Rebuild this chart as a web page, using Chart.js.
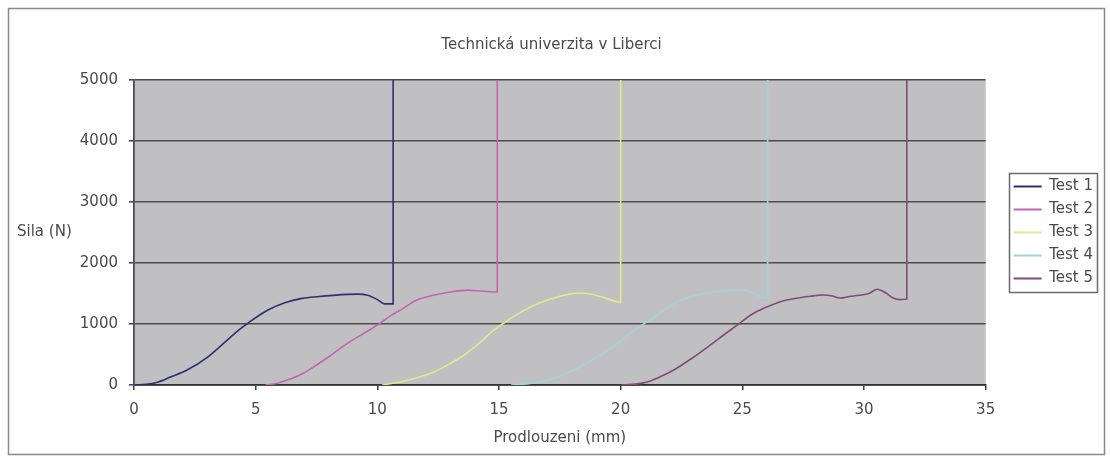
<!DOCTYPE html>
<html>
<head>
<meta charset="utf-8">
<title>Technická univerzita v Liberci</title>
<script src="https://cdn.jsdelivr.net/npm/chart.js@4"></script>
<style>
  html, body { margin: 0; padding: 0; background: #ffffff; }
  #wrap { width: 1110px; height: 457px; position: relative; }
</style>
</head>
<body>
<div id="wrap"><canvas id="c" width="1110" height="457"></canvas></div>
<script>
// Tensile test curves: elongation (mm) vs. force (N)
const chartTitle = 'Technická univerzita v Liberci';
const xTitle = 'Prodlouzeni (mm)';
const yTitle = 'Sila (N)';
const seriesNames = ['Test 1', 'Test 2', 'Test 3', 'Test 4', 'Test 5'];
const xTicks = [0, 5, 10, 15, 20, 25, 30, 35];
const yTicks = [0, 1000, 2000, 3000, 4000, 5000];

const test1X = [0, 0.5, 1.0, 1.5, 2.2, 3.0, 3.7, 4.3, 4.7, 5.5, 6.2, 6.9, 7.6, 8.2, 8.8, 9.2, 9.6, 10.0, 10.3, 10.65, 10.65];
const test1Y = [0, 10, 50, 130, 250, 450, 690, 900, 1020, 1230, 1350, 1420, 1450, 1470, 1485, 1490, 1470, 1400, 1330, 1330, 5000];

const test2X = [5.4, 5.9, 6.3, 6.9, 7.4, 8.1, 8.8, 9.5, 10.1, 10.6, 11.0, 11.6, 12.3, 13.0, 13.7, 14.3, 14.93, 14.93];
const test2Y = [0, 30, 80, 180, 300, 490, 690, 860, 1010, 1150, 1240, 1390, 1470, 1525, 1555, 1540, 1525, 5000];

const test3X = [10.2, 10.8, 11.6, 12.3, 12.9, 13.6, 14.2, 14.7, 15.2, 15.8, 16.3, 16.9, 17.4, 17.9, 18.4, 18.9, 19.4, 19.9, 20.0, 20.0];
const test3Y = [0, 40, 115, 210, 330, 500, 690, 870, 1016, 1170, 1280, 1380, 1443, 1490, 1508, 1480, 1420, 1360, 1350, 5000];

const test4X = [15.5, 16.2, 17.0, 17.6, 18.1, 18.7, 19.3, 19.9, 20.4, 20.9, 21.4, 21.9, 22.5, 23.1, 23.8, 24.4, 25.0, 25.5, 25.75, 26.04, 26.04];
const test4Y = [0, 20, 80, 160, 250, 380, 520, 690, 850, 990, 1115, 1260, 1393, 1470, 1525, 1550, 1557, 1500, 1443, 1426, 5000];

const test5X = [20.0, 20.6, 21.1, 21.6, 22.2, 22.9, 23.6, 24.3, 24.9, 25.4, 25.9, 26.6, 27.3, 27.8, 28.3, 28.7, 29.0, 29.4, 29.8, 30.2, 30.55, 30.9, 31.2, 31.5, 31.76, 31.76];
const test5Y = [0, 15, 50, 130, 250, 430, 630, 840, 1016, 1160, 1262, 1370, 1426, 1455, 1475, 1460, 1426, 1450, 1470, 1500, 1570, 1508, 1426, 1400, 1410, 5000];

const seriesColors = ['#2e2e72', '#c463b4', '#e6e68e', '#a2d2da', '#824a7c'];

const FONT = 'DejaVu Sans';
const TEXT = '#4a4a4a';

function toPoints(xs, ys) {
  return xs.map((x, i) => ({ x: x, y: ys[i] }));
}

const allX = [test1X, test2X, test3X, test4X, test5X];
const allY = [test1Y, test2Y, test3Y, test4Y, test5Y];

const datasets = seriesNames.map((name, i) => ({
  label: name,
  data: toPoints(allX[i], allY[i]),
  borderColor: seriesColors[i],
  backgroundColor: seriesColors[i],
  borderWidth: 1.6,
  showLine: true,
  pointRadius: 0,
  cubicInterpolationMode: 'monotone',
  fill: false
}));

// white page, outer frame and grey plot area
const framePlugin = {
  id: 'frame',
  beforeDraw(chart) {
    const { ctx, chartArea } = chart;
    ctx.save();
    ctx.fillStyle = '#ffffff';
    ctx.fillRect(0, 0, chart.width, chart.height);
    ctx.strokeStyle = '#8a8a8a';
    ctx.lineWidth = 1.5;
    ctx.strokeRect(8.5, 8.5, 1096, 446);
    ctx.fillStyle = '#c0c0c2';
    ctx.fillRect(chartArea.left, chartArea.top, chartArea.right - chartArea.left, chartArea.bottom - chartArea.top);
    ctx.restore();
  },
  afterDraw(chart) {
    const { ctx, chartArea } = chart;
    ctx.save();
    // horizontal y-axis title
    ctx.font = '15px "' + FONT + '"';
    ctx.fillStyle = TEXT;
    ctx.textAlign = 'left';
    ctx.textBaseline = 'middle';
    ctx.fillText(yTitle, 17, (chartArea.top + chartArea.bottom) / 2);
    // box around the legend entries
    const lg = chart.legend;
    if (lg && lg.legendHitBoxes && lg.legendHitBoxes.length) {
      const hb = lg.legendHitBoxes;
      let l = Infinity, r = -Infinity, t = Infinity, b = -Infinity;
      hb.forEach(h => {
        l = Math.min(l, h.left); r = Math.max(r, h.left + h.width);
        t = Math.min(t, h.top); b = Math.max(b, h.top + h.height);
      });
      ctx.strokeStyle = '#6a6a6a';
      ctx.lineWidth = 1.5;
      ctx.strokeRect(Math.round(l - 5) + 0.5, Math.round(t - 6) + 0.5, Math.round(r - l + 9), Math.round(b - t + 12));
    }
    ctx.restore();
  }
};

new Chart(document.getElementById('c'), {
  type: 'scatter',
  data: { datasets: datasets },
  plugins: [framePlugin],
  options: {
    responsive: false,
    animation: false,
    devicePixelRatio: 1,
    layout: { padding: { left: 0, right: 7, top: 0, bottom: 0 } },
    plugins: {
      title: {
        display: true,
        text: chartTitle,
        color: TEXT,
        font: { family: FONT, size: 15, weight: 'normal' },
        padding: { top: 36, bottom: 26 }
      },
      legend: {
        display: true,
        position: 'right',
        align: 'center',
        fullSize: false,
        labels: {
          color: TEXT,
          font: { family: FONT, size: 15 },
          boxWidth: 28,
          boxHeight: 2,
          padding: 8,
          generateLabels(chart) {
            return chart.data.datasets.map((ds, i) => ({
              text: ds.label,
              fillStyle: ds.borderColor,
              strokeStyle: ds.borderColor,
              lineWidth: 0,
              hidden: false,
              datasetIndex: i,
              fontColor: TEXT
            }));
          }
        }
      },
      tooltip: { enabled: false }
    },
    scales: {
      x: {
        type: 'linear',
        min: 0,
        max: 35,
        afterBuildTicks(scale) { scale.ticks = xTicks.map(v => ({ value: v })); },
        afterFit(scale) { scale.height = 72; },
        ticks: {
          color: TEXT,
          font: { family: FONT, size: 15 },
          padding: 11,
          maxRotation: 0,
          callback: v => String(v)
        },
        grid: {
          display: true,
          drawOnChartArea: false,
          drawTicks: true,
          tickLength: 5,
          color: '#3a3a3a',
          lineWidth: 1.5
        },
        border: { display: true, color: '#333333', width: 1.8 },
        title: {
          display: true,
          text: xTitle,
          color: TEXT,
          font: { family: FONT, size: 15 },
          padding: { top: 0, bottom: 10 }
        }
      },
      y: {
        type: 'linear',
        min: 0,
        max: 5000,
        afterBuildTicks(scale) { scale.ticks = yTicks.map(v => ({ value: v })); },
        afterFit(scale) { scale.width = 134; },
        ticks: {
          color: TEXT,
          font: { family: FONT, size: 15 },
          padding: 11,
          callback: v => String(v)
        },
        grid: {
          display: true,
          drawOnChartArea: true,
          drawTicks: true,
          tickLength: 5,
          color: '#4c4c4c',
          lineWidth: 1.6
        },
        border: { display: true, color: '#4e4a5c', width: 1.8 }
      },
      gap: {
        type: 'linear',
        position: 'right',
        display: true,
        afterFit(scale) { scale.width = 20; },
        ticks: { display: false },
        grid: { display: false, drawTicks: false },
        border: { display: false }
      }
    }
  }
});
</script>
</body>
</html>
